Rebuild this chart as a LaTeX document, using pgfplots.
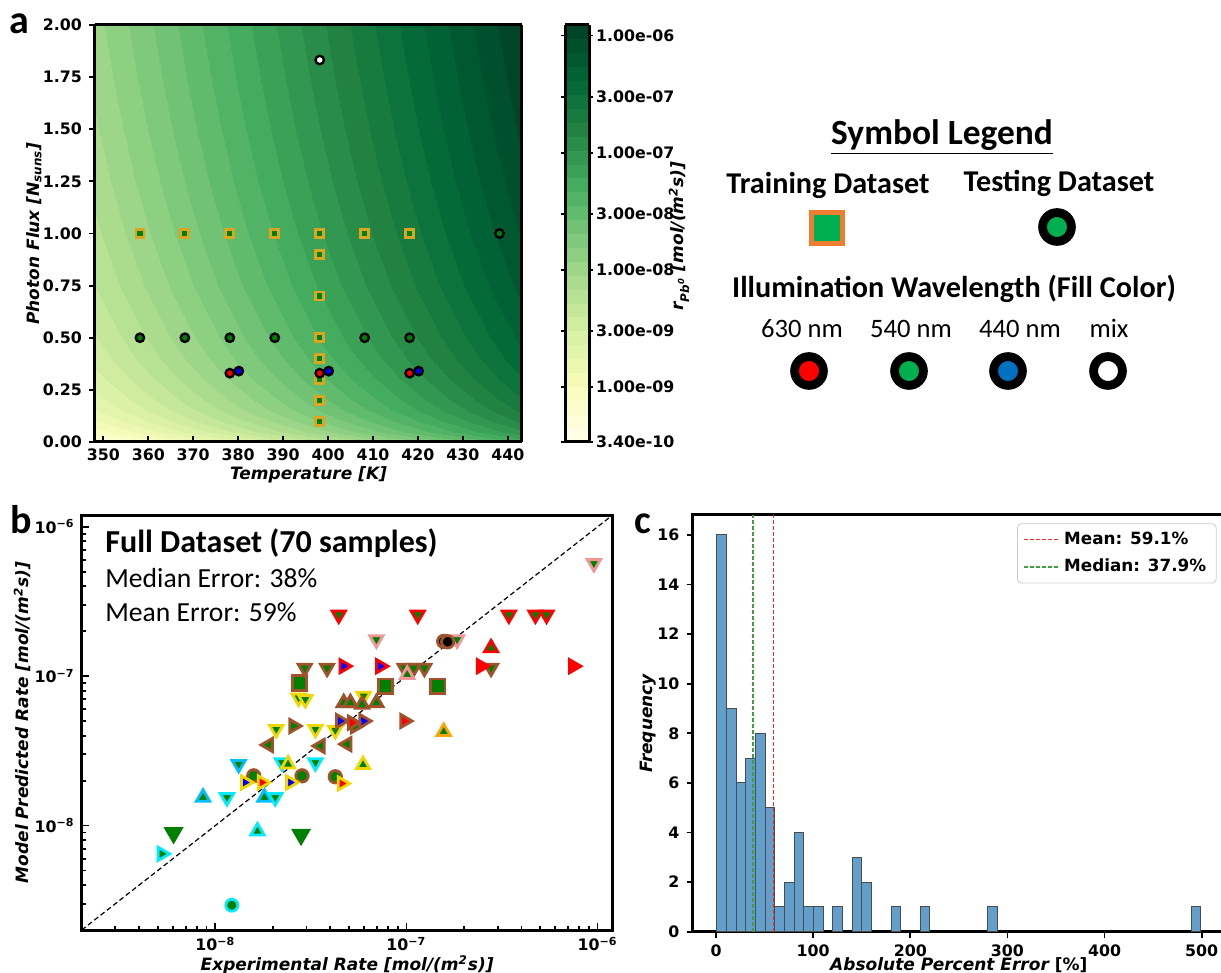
\documentclass[border=0pt]{standalone}
\usepackage{fontspec}
\setmainfont{DejaVu Sans}
\newfontfamily\calibri{Carlito}
\usepackage{pgfplots}
\pgfplotsset{compat=1.18}

\definecolor{mgreen}{RGB}{0,128,0}
\definecolor{lgreen}{RGB}{0,176,80}
\definecolor{lblue}{RGB}{0,112,192}
\definecolor{lorange}{RGB}{237,125,49}
\definecolor{gold}{RGB}{218,165,32}
\definecolor{cyanE}{RGB}{0,235,255}
\definecolor{skyE}{RGB}{0,191,255}
\definecolor{yelE}{RGB}{240,215,0}
\definecolor{orE}{RGB}{255,165,0}
\definecolor{brE}{RGB}{160,82,45}
\definecolor{pinkE}{RGB}{240,150,150}
\definecolor{histfill}{RGB}{98,160,203}
\definecolor{redln}{RGB}{255,40,40}
\definecolor{grnln}{RGB}{60,160,60}

\pgfplotsset{
  colormap={ylgn}{rgb255=(255,255,229) rgb255=(247,252,185) rgb255=(217,240,163)
    rgb255=(173,221,142) rgb255=(120,198,121) rgb255=(65,171,93) rgb255=(35,132,67)
    rgb255=(0,104,55) rgb255=(0,69,41)},
  pm/.style n args={4}{only marks, mark=#1, mark size=3.8pt,
    mark options={rotate=#2, fill=#3, draw=#4, line width=1.4pt}},
  common/.style={scale only axis, anchor=south west,
    tick label style={font=\bfseries\fontsize{7.9}{9.5}\selectfont},
    label style={font=\bfseries\itshape\fontsize{8.5}{10}\selectfont},
    /pgf/number format/assume math mode=true,
    axis line style={line width=1.5pt},
    tick style={black, line width=0.9pt},
  },
  shortline/.style={legend image code/.code={\draw[##1] (0pt,0pt) -- (17.5pt,0pt);}},
}

\begin{document}
\begin{tikzpicture}

% ---------- panel a ----------
\begin{axis}[common,
  at={(47.5pt,265.5pt)}, width=213.5pt, height=208.5pt,
  view={0}{90}, axis on top,
  xmin=348.15, xmax=443.15, ymin=0, ymax=2, zmin=-10, zmax=0,
  xtick={350,360,370,380,390,400,410,420,430,440},
  ytick={0,0.25,0.5,0.75,1,1.25,1.5,1.75,2}, ztick=\empty,
  yticklabel style={/pgf/number format/.cd, fixed, fixed zerofill, precision=2},
  tick pos=left, xtick align=inside, ytick align=outside, major tick length=3pt,
  xlabel={Temperature [K]}, ylabel={Photon Flux [\textit{N}\textsubscript{suns}]},
  xlabel style={at={(axis description cs:0.5,-0.079)}, anchor=center},
  ylabel style={at={(axis description cs:-0.143,0.5)}, anchor=center},
  colormap name=ylgn,
  point meta min=-9.4685, point meta max=-5.91,
  colorbar sampled,
  colorbar style={
    at={(parent axis.north east)}, anchor=north west, xshift=13pt,
    width=12pt, samples=31,
    ytick={-9.4685,-9,-8.5229,-8,-7.5229,-7,-6.5229,-6},
    yticklabels={3.40e-10,1.00e-09,3.00e-09,1.00e-08,3.00e-08,1.00e-07,3.00e-07,1.00e-06},
    yticklabel style={font=\bfseries\fontsize{7.9}{9.5}\selectfont, xshift=-2pt},
    ylabel={\textit{r}\textsubscript{Pb\textsuperscript{0}} [mol/(m\textsuperscript{2}s)]},
    ylabel style={font=\bfseries\itshape\fontsize{8.5}{10}\selectfont,
      at={(axis description cs:4.75,0.494)}, anchor=center},
    axis line style={line width=1.5pt},
    tick align=outside, major tick length=2pt, tick style={black, line width=0.9pt},
  },
]
\addplot3[contour filled={number=30}, mesh/cols=4, point meta=\thisrow{z}]
  table[x=x, y=y, z=z] {
x y z
348.15 0 -9.4700
379.82 0 -8.7833
411.48 0 -8.0967
443.15 0 -7.4100
348.15 0.01 -9.3382
379.82 0.01 -8.6515
411.48 0.01 -7.9649
443.15 0.01 -7.2782
348.15 0.02 -9.2447
379.82 0.02 -8.5580
411.48 0.02 -7.8714
443.15 0.02 -7.1847
348.15 0.05 -9.0628
379.82 0.05 -8.3761
411.48 0.05 -7.6895
443.15 0.05 -7.0028
348.15 0.1 -8.8876
379.82 0.1 -8.2009
411.48 0.1 -7.5143
443.15 0.1 -6.8276
348.15 0.15 -8.7744
379.82 0.15 -8.0877
411.48 0.15 -7.4011
443.15 0.15 -6.7144
348.15 0.2 -8.6906
379.82 0.2 -8.0039
411.48 0.2 -7.3173
443.15 0.2 -6.6306
348.15 0.3 -8.5688
379.82 0.3 -7.8821
411.48 0.3 -7.1955
443.15 0.3 -6.5088
348.15 0.4 -8.4805
379.82 0.4 -7.7938
411.48 0.4 -7.1072
443.15 0.4 -6.4205
348.15 0.5 -8.4110
379.82 0.5 -7.7243
411.48 0.5 -7.0377
443.15 0.5 -6.3510
348.15 0.75 -8.2834
379.82 0.75 -7.5967
411.48 0.75 -6.9101
443.15 0.75 -6.2234
348.15 1.0 -8.1920
379.82 1.0 -7.5053
411.48 1.0 -6.8187
443.15 1.0 -6.1320
348.15 1.25 -8.1208
379.82 1.25 -7.4341
411.48 1.25 -6.7475
443.15 1.25 -6.0608
348.15 1.5 -8.0624
379.82 1.5 -7.3757
411.48 1.5 -6.6891
443.15 1.5 -6.0024
348.15 1.75 -8.0129
379.82 1.75 -7.3262
411.48 1.75 -6.6396
443.15 1.75 -5.9529
348.15 2.0 -7.9700
379.82 2.0 -7.2833
411.48 2.0 -6.5967
443.15 2.0 -5.9100
};
% training points
\addplot3[only marks, mark=square*, mark size=2pt, mark options={fill=mgreen, draw=gold, line width=1.4pt}]
  coordinates {(358.15,1,0) (368.15,1,0) (378.15,1,0) (388.15,1,0) (398.15,1,0) (408.15,1,0) (418.15,1,0)
  (398.15,0.9,0) (398.15,0.7,0) (398.15,0.5,0) (398.15,0.4,0) (398.15,0.3,0) (398.15,0.2,0) (398.15,0.1,0)};
% testing points
\addplot3[only marks, mark=*, mark size=2.1pt, mark options={fill=mgreen, draw=black, line width=1.2pt}]
  coordinates {(358.15,0.5,0) (368.15,0.5,0) (378.15,0.5,0) (388.15,0.5,0) (408.15,0.5,0) (418.15,0.5,0) (438.15,1,0)};
\addplot3[only marks, mark=*, mark size=2.1pt, mark options={fill=blue, draw=black, line width=1.2pt}]
  coordinates {(380.15,0.34,0) (400.15,0.34,0) (420.15,0.34,0)};
\addplot3[only marks, mark=*, mark size=2.1pt, mark options={fill=red, draw=black, line width=1.2pt}]
  coordinates {(378.15,0.33,0) (398.15,0.33,0) (418.15,0.33,0)};
\addplot3[only marks, mark=*, mark size=2.1pt, mark options={fill=white, draw=black, line width=1.2pt}]
  coordinates {(398.15,1.832,0)};
\end{axis}

% ---------- panel b ----------
\begin{axis}[common,
  at={(40.85pt,21.5pt)}, width=265.5pt, height=207.5pt,
  xmode=log, ymode=log, xmin=2e-9, xmax=1.2e-6, ymin=2e-9, ymax=1.2e-6,
  xtick={1e-8,1e-7,1e-6}, ytick={1e-8,1e-7,1e-6},
  xticklabels={10\textsuperscript{−8},10\textsuperscript{−7},10\textsuperscript{−6}},
  yticklabels={10\textsuperscript{−8},10\textsuperscript{−7},10\textsuperscript{−6}},
  minor xtick={2e-9,3e-9,4e-9,5e-9,6e-9,7e-9,8e-9,9e-9,2e-8,3e-8,4e-8,5e-8,6e-8,7e-8,8e-8,9e-8,2e-7,3e-7,4e-7,5e-7,6e-7,7e-7,8e-7,9e-7},
  minor ytick={2e-9,3e-9,4e-9,5e-9,6e-9,7e-9,8e-9,9e-9,2e-8,3e-8,4e-8,5e-8,6e-8,7e-8,8e-8,9e-8,2e-7,3e-7,4e-7,5e-7,6e-7,7e-7,8e-7,9e-7},
  tick pos=left, tick align=inside, major tick length=3.5pt, minor tick length=2pt,
  xlabel={Experimental Rate [mol/(m\textsuperscript{2}s)]},
  ylabel={Model Predicted Rate [mol/(m\textsuperscript{2}s)]},
  xlabel style={at={(axis description cs:0.5,-0.084)}, anchor=center},
  ylabel style={at={(axis description cs:-0.112,0.5)}, anchor=center},
]
\addplot[pm={*}{0}{mgreen}{cyanE}, mark size=3pt] coordinates {(1.22e-8,2.93e-9)};
\addplot[pm={triangle*}{180}{mgreen}{mgreen}, mark size=4.4pt] coordinates {(6.05e-9,8.93e-9) (2.81e-8,8.71e-9)};
\addplot[pm={triangle*}{-90}{mgreen}{cyanE}] coordinates {(5.26e-9,6.47e-9)};
\addplot[pm={triangle*}{0}{mgreen}{skyE}] coordinates {(8.63e-9,1.545e-8) (1.807e-8,1.545e-8)};
\addplot[pm={triangle*}{0}{mgreen}{cyanE}] coordinates {(1.663e-8,9.17e-9)};
\addplot[pm={triangle*}{180}{mgreen}{cyanE}] coordinates {(1.151e-8,1.545e-8) (2.06e-8,1.545e-8) (2.234e-8,2.642e-8) (3.342e-8,2.642e-8)};
\addplot[pm={triangle*}{180}{mgreen}{skyE}] coordinates {(1.325e-8,2.576e-8)};
\addplot[pm={*}{0}{mgreen}{brE}, mark size=3.1pt] coordinates {(1.589e-8,2.154e-8) (2.844e-8,2.154e-8) (4.246e-8,2.123e-8)};
\addplot[pm={triangle*}{-90}{blue}{yelE}] coordinates {(1.436e-8,1.945e-8) (2.472e-8,1.945e-8)};
\addplot[pm={triangle*}{-90}{red}{yelE}] coordinates {(1.758e-8,1.945e-8) (4.6e-8,1.914e-8)};
\addplot[pm={triangle*}{0}{mgreen}{yelE}] coordinates {(2.404e-8,2.576e-8) (5.93e-8,2.553e-8)};
\addplot[pm={triangle*}{0}{mgreen}{orE}] coordinates {(1.567e-7,4.256e-8)};
\addplot[pm={triangle*}{90}{mgreen}{brE}] coordinates {(1.901e-8,3.467e-8) (3.548e-8,3.412e-8) (4.898e-8,3.508e-8)};
\addplot[pm={triangle*}{180}{mgreen}{yelE}] coordinates {(2.084e-8,4.416e-8) (3.342e-8,4.416e-8) (4.246e-8,4.345e-8) (2.729e-8,7.16e-8) (2.958e-8,7.0e-8) (5.97e-8,7.36e-8)};
\addplot[pm={triangle*}{-90}{mgreen}{brE}] coordinates {(2.57e-8,4.64e-8) (5.41e-8,4.64e-8)};
\addplot[pm={triangle*}{-90}{blue}{brE}] coordinates {(4.508e-8,5.012e-8) (5.97e-8,5.012e-8)};
\addplot[pm={triangle*}{-90}{red}{brE}] coordinates {(5.2e-8,4.887e-8) (9.77e-8,5.012e-8)};
\addplot[pm={triangle*}{0}{mgreen}{brE}] coordinates {(4.699e-8,6.637e-8) (5.093e-8,6.637e-8) (5.86e-8,6.47e-8) (6.966e-8,6.637e-8)};
\addplot[pm={square*}{0}{mgreen}{brE}, mark size=3.6pt] coordinates {(2.754e-8,9.02e-8) (7.762e-8,8.57e-8) (1.459e-7,8.57e-8)};
\addplot[pm={triangle*}{180}{mgreen}{brE}] coordinates {(2.938e-8,1.135e-7) (3.846e-8,1.135e-7) (9.77e-8,1.135e-7) (1.091e-7,1.135e-7) (1.242e-7,1.135e-7) (2.773e-7,1.135e-7)};
\addplot[pm={triangle*}{0}{mgreen}{pinkE}] coordinates {(1.009e-7,1.026e-7)};
\addplot[pm={triangle*}{-90}{blue}{red}] coordinates {(4.699e-8,1.167e-7) (7.31e-8,1.167e-7)};
\addplot[pm={triangle*}{-90}{red}{red}] coordinates {(2.46e-7,1.167e-7) (7.464e-7,1.167e-7)};
\addplot[pm={triangle*}{0}{mgreen}{red}] coordinates {(2.773e-7,1.545e-7)};
\addplot[pm={triangle*}{180}{mgreen}{pinkE}] coordinates {(6.966e-8,1.758e-7) (1.841e-7,1.758e-7) (9.57e-7,5.69e-7)};
\addplot[pm={*}{0}{black}{brE}, mark size=3.1pt] coordinates {(1.567e-7,1.711e-7) (1.644e-7,1.7e-7)};
\addplot[pm={triangle*}{180}{mgreen}{red}] coordinates {(4.426e-8,2.576e-7) (1.146e-7,2.576e-7) (3.436e-7,2.576e-7) (4.732e-7,2.576e-7) (5.408e-7,2.576e-7)};
\addplot[black, line width=0.6pt, dash pattern=on 2.5pt off 1.5pt] coordinates {(2e-9,2e-9) (1.2e-6,1.2e-6)};
\end{axis}

% ---------- panel c: histogram ----------
\begin{axis}[common,
  at={(346.25pt,20.65pt)}, width=266.3pt, height=208.35pt,
  xmin=-24.2, xmax=524.1, ymin=0, ymax=16.8,
  xtick={0,100,200,300,400,500}, ytick={0,2,4,6,8,10,12,14,16},
  tick pos=left, tick align=outside, major tick length=3pt,
  xlabel={Absolute Percent Error {\upshape[\%]}}, ylabel={Frequency},
  xlabel style={at={(axis description cs:0.5,-0.08)}, anchor=center},
  ylabel style={at={(axis description cs:-0.0836,0.5)}, anchor=center},
]
\addplot[ybar interval, fill=histfill, draw=black!70, line width=0.5pt] coordinates {
(0.70,16) (10.67,9) (20.64,6) (30.61,7) (40.58,8) (50.55,5) (60.52,1) (70.49,2) (80.46,4) (90.43,1) (100.40,1) (110.37,0)};
\addplot[ybar interval, fill=histfill, draw=black!70, line width=0.5pt] coordinates {(120.34,1) (130.31,0)};
\addplot[ybar interval, fill=histfill, draw=black!70, line width=0.5pt] coordinates {(140.28,3) (150.25,2) (160.22,0)};
\addplot[ybar interval, fill=histfill, draw=black!70, line width=0.5pt] coordinates {(180.16,1) (190.13,0)};
\addplot[ybar interval, fill=histfill, draw=black!70, line width=0.5pt] coordinates {(210.07,1) (220.04,0)};
\addplot[ybar interval, fill=histfill, draw=black!70, line width=0.5pt] coordinates {(279.86,1) (289.83,0)};
\addplot[ybar interval, fill=histfill, draw=black!70, line width=0.5pt] coordinates {(489.23,1) (499.20,0)};
\end{axis}

% ---------- panel c: mean / median lines and legend (same frame) ----------
\begin{axis}[scale only axis, anchor=south west,
  at={(346.25pt,20.65pt)}, width=266.3pt, height=208.35pt,
  xmin=-24.2, xmax=524.1, ymin=0, ymax=16.8, hide axis,
  legend style={at={(0.984,0.98)}, anchor=north east,
    font=\bfseries\fontsize{8.4}{10}\selectfont, draw=black!20, rounded corners=2pt,
    fill=white, inner xsep=3pt, inner ysep=2pt, row sep=2pt},
  legend cell align=left,
  shortline,
]
\addplot[draw=grnln, line width=0.75pt, dash pattern=on 2pt off 1pt, forget plot] coordinates {(37.9,0) (37.9,16.8)};
\addplot[draw=redln, line width=0.85pt, dash pattern=on 2pt off 1pt, forget plot] coordinates {(59.1,0) (59.1,16.8)};
\addlegendimage{draw=redln, line width=0.85pt, dash pattern=on 2pt off 1pt}
\addlegendentry{Mean: 59.1\%}
\addlegendimage{draw=grnln, line width=0.75pt, dash pattern=on 2pt off 1pt}
\addlegendentry{Median: 37.9\%}
\end{axis}

% ---------- overlay: panel letters, notes and symbol legend (pixel units) ----------
\begin{axis}[at={(0pt,0pt)}, anchor=south west, scale only axis,
  width=610.5pt, height=486.5pt, xmin=0, xmax=1221, ymin=0, ymax=973,
  y dir=reverse, hide axis, clip=false]
\addplot[only marks, mark=square*, mark size=7.9pt, mark options={fill=lgreen, draw=lorange, line width=2.5pt}] coordinates {(827,228)};
\addplot[only marks, mark=*, mark size=7.2pt, mark options={fill=lgreen, draw=black, line width=4.4pt}] coordinates {(1057,227)};
\addplot[only marks, mark=*, mark size=7.2pt, mark options={fill=red, draw=black, line width=4.4pt}] coordinates {(809,371)};
\addplot[only marks, mark=*, mark size=7.2pt, mark options={fill=lgreen, draw=black, line width=4.4pt}] coordinates {(909,371)};
\addplot[only marks, mark=*, mark size=7.2pt, mark options={fill=lblue, draw=black, line width=4.4pt}] coordinates {(1008,371)};
\addplot[only marks, mark=*, mark size=7.2pt, mark options={fill=white, draw=black, line width=4.4pt}] coordinates {(1108,371)};
\node[anchor=base, font=\calibri\bfseries\fontsize{17.7}{20}\selectfont] at (942,145) {\underline{Symbol Legend}};
\node[anchor=base, font=\calibri\bfseries\fontsize{15.1}{18}\selectfont] at (828,194) {Training Dataset};
\node[anchor=base, font=\calibri\bfseries\fontsize{15.1}{18}\selectfont] at (1059,191.5) {Testing Dataset};
\node[anchor=base, font=\calibri\bfseries\fontsize{15.1}{18}\selectfont] at (954,298) {Illumination Wavelength (Fill Color)};
\node[anchor=base, font=\calibri\fontsize{13.3}{16}\selectfont] at (802,338) {630 nm};
\node[anchor=base, font=\calibri\fontsize{13.3}{16}\selectfont] at (911,338) {540 nm};
\node[anchor=base, font=\calibri\fontsize{13.3}{16}\selectfont] at (1020,338) {440 nm};
\node[anchor=base, font=\calibri\fontsize{13.3}{16}\selectfont] at (1109,338) {mix};
\node[anchor=base west, inner sep=0pt, font=\calibri\bfseries\fontsize{20}{24}\selectfont] at (9,34) {a};
\node[anchor=base west, inner sep=0pt, font=\calibri\bfseries\fontsize{20}{24}\selectfont] at (10,534) {b};
\node[anchor=base west, inner sep=0pt, font=\calibri\bfseries\fontsize{20}{24}\selectfont] at (634,534) {c};
\node[anchor=base west, inner sep=0pt, font=\calibri\bfseries\fontsize{16}{19}\selectfont] at (105,553) {Full Dataset (70 samples)};
\node[anchor=base west, inner sep=0pt, font=\calibri\fontsize{13.8}{16}\selectfont] at (105,588) {Median Error: 38\%};
\node[anchor=base west, inner sep=0pt, font=\calibri\fontsize{13.8}{16}\selectfont] at (105,622) {Mean Error: 59\%};
\end{axis}

\pgfresetboundingbox
\path[use as bounding box] (0pt,0pt) rectangle (610.5pt,486.5pt);
\end{tikzpicture}
\end{document}
